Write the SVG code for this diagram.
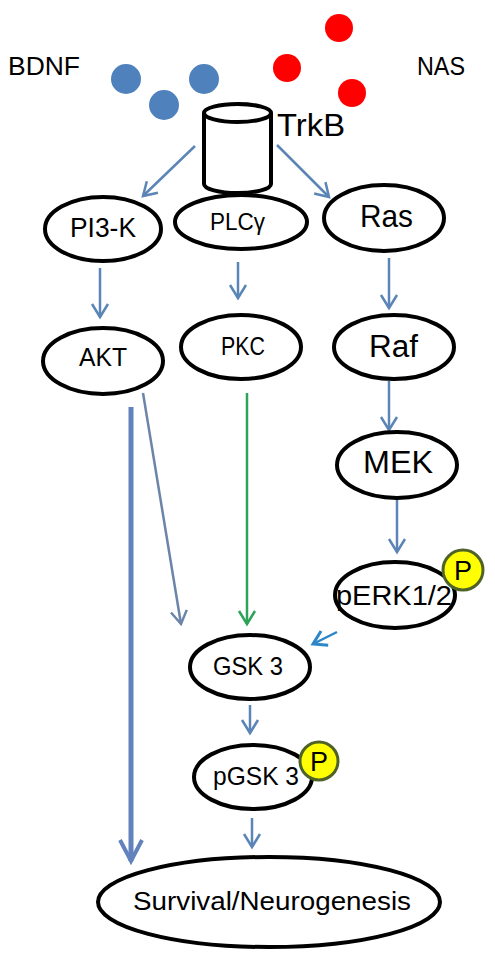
<svg xmlns="http://www.w3.org/2000/svg" width="495" height="963" viewBox="0 0 495 963">
<style>
  text { font-family: "Liberation Sans", Arial, sans-serif; fill: #000; }
  .node { fill: #fff; stroke: #000; stroke-width: 4; }
  .blue { fill: #4f81bd; }
  .red { fill: #ff0000; }
  .phos { fill: #ffff00; stroke: #4f6228; stroke-width: 3; }
  .edge { fill: none; stroke: #5a85b6; stroke-width: 2.5; }
  .thin { fill: none; stroke: #6a85a8; stroke-width: 2.5; }
  .green { fill: none; stroke: #2da35a; stroke-width: 2.5; }
  .bright { fill: none; stroke: #2b87c9; stroke-width: 2.5; }
  .thick { fill: none; stroke: #6282bd; stroke-width: 5; }
</style>
<defs>
  <marker id="ah" viewBox="-16 -10 20 20" refX="0" refY="0" markerWidth="20" markerHeight="20" markerUnits="userSpaceOnUse" orient="auto">
    <path d="M-13,-8 L0,0 L-13,8" fill="none" stroke="#5a85b6" stroke-width="2.5"/>
  </marker>
  <marker id="ahThin" viewBox="-16 -10 20 20" refX="0" refY="0" markerWidth="20" markerHeight="20" markerUnits="userSpaceOnUse" orient="auto">
    <path d="M-13,-8 L0,0 L-13,8" fill="none" stroke="#6a85a8" stroke-width="2.5"/>
  </marker>
  <marker id="ahGreen" viewBox="-16 -10 20 20" refX="0" refY="0" markerWidth="20" markerHeight="20" markerUnits="userSpaceOnUse" orient="auto">
    <path d="M-13,-8 L0,0 L-13,8" fill="none" stroke="#2da35a" stroke-width="2.5"/>
  </marker>
  <marker id="ahBright" viewBox="-16 -10 20 20" refX="0" refY="0" markerWidth="20" markerHeight="20" markerUnits="userSpaceOnUse" orient="auto">
    <path d="M-13,-8 L0,0 L-13,8" fill="none" stroke="#2b87c9" stroke-width="3"/>
  </marker>
  <marker id="ahThick" viewBox="-26 -14 30 28" refX="0" refY="0" markerWidth="30" markerHeight="28" markerUnits="userSpaceOnUse" orient="auto">
    <path d="M-21,-11 L0,0 L-21,11" fill="none" stroke="#6282bd" stroke-width="4"/>
  </marker>
</defs>

<g id="bdnf">
  <text x="8" y="75" font-size="25" textLength="72" lengthAdjust="spacingAndGlyphs">BDNF</text>
  <circle class="blue" cx="126" cy="79" r="15"/>
  <circle class="blue" cx="204" cy="79" r="15"/>
  <circle class="blue" cx="164" cy="105" r="15"/>
</g>

<g id="nas">
  <text x="417" y="75" font-size="25" textLength="48" lengthAdjust="spacingAndGlyphs">NAS</text>
  <circle class="red" cx="339" cy="28" r="14"/>
  <circle class="red" cx="287" cy="68" r="14"/>
  <circle class="red" cx="352" cy="93" r="14"/>
</g>

<g id="connectors">
  <line class="edge" x1="195" y1="146" x2="143" y2="196" marker-end="url(#ah)"/>
  <line class="edge" x1="277" y1="145" x2="329" y2="197" marker-end="url(#ah)"/>
  <line class="edge" x1="100" y1="268" x2="100" y2="317" marker-end="url(#ah)"/>
  <line class="edge" x1="238" y1="262" x2="238" y2="298" marker-end="url(#ah)"/>
  <line class="edge" x1="389" y1="258" x2="389" y2="308" marker-end="url(#ah)"/>
  <line class="edge" x1="389" y1="381" x2="389" y2="430" marker-end="url(#ah)"/>
  <line class="edge" x1="397" y1="500" x2="397" y2="552" marker-end="url(#ah)"/>
  <line class="thin" x1="143" y1="393" x2="181" y2="624" marker-end="url(#ahThin)"/>
  <line class="green" x1="247" y1="393" x2="247" y2="624" marker-end="url(#ahGreen)"/>
  <line class="bright" x1="337" y1="632" x2="313" y2="644" marker-end="url(#ahBright)"/>
  <line class="edge" x1="250" y1="705" x2="250" y2="733" marker-end="url(#ah)"/>
  <line class="edge" x1="252" y1="818" x2="252" y2="847" marker-end="url(#ah)"/>
  <line class="thick" x1="131" y1="407" x2="131" y2="861" marker-end="url(#ahThick)"/>
</g>

<g id="trkb">
  <path class="node" d="M204,113 L204,184 A33.5,9 0 0 0 271,184 L271,113"/>
  <ellipse class="node" cx="237.5" cy="113" rx="33.5" ry="9"/>
  <text x="277" y="136" font-size="32" textLength="68" lengthAdjust="spacingAndGlyphs">TrkB</text>
</g>

<g id="pi3k">
  <ellipse class="node" cx="103" cy="229" rx="58" ry="32"/>
  <text x="70" y="237" font-size="27" textLength="66" lengthAdjust="spacingAndGlyphs">PI3-K</text>
</g>

<g id="plcg">
  <ellipse class="node" cx="241" cy="222" rx="66" ry="27"/>
  <text x="210" y="230" font-size="24" textLength="55" lengthAdjust="spacingAndGlyphs">PLCγ</text>
</g>

<g id="ras">
  <ellipse class="node" cx="384" cy="218" rx="60" ry="33"/>
  <text x="360" y="227" font-size="32" textLength="53" lengthAdjust="spacingAndGlyphs">Ras</text>
</g>

<g id="akt">
  <ellipse class="node" cx="103" cy="361" rx="60" ry="33"/>
  <text x="79" y="366" font-size="25" textLength="48" lengthAdjust="spacingAndGlyphs">AKT</text>
</g>

<g id="pkc">
  <ellipse class="node" cx="241" cy="347" rx="60" ry="32"/>
  <text x="221" y="355" font-size="25" textLength="44" lengthAdjust="spacingAndGlyphs">PKC</text>
</g>

<g id="raf">
  <ellipse class="node" cx="394" cy="347" rx="60" ry="32"/>
  <text x="369" y="357" font-size="31" textLength="49" lengthAdjust="spacingAndGlyphs">Raf</text>
</g>

<g id="mek">
  <ellipse class="node" cx="397" cy="465" rx="60" ry="33"/>
  <text x="363" y="473" font-size="32" textLength="70" lengthAdjust="spacingAndGlyphs">MEK</text>
</g>

<g id="perk">
  <ellipse class="node" cx="395" cy="595" rx="60" ry="33"/>
  <text x="336" y="605" font-size="28" textLength="116" lengthAdjust="spacingAndGlyphs">pERK1/2</text>
  <circle class="phos" cx="463" cy="570" r="20"/>
  <text x="454" y="580" font-size="27">P</text>
</g>

<g id="gsk3">
  <ellipse class="node" cx="250" cy="667" rx="60" ry="32"/>
  <text x="213" y="675" font-size="25" textLength="70" lengthAdjust="spacingAndGlyphs">GSK 3</text>
</g>

<g id="pgsk3">
  <ellipse class="node" cx="253" cy="777" rx="59" ry="32"/>
  <text x="213" y="785" font-size="26" textLength="86" lengthAdjust="spacingAndGlyphs">pGSK 3</text>
  <circle class="phos" cx="319" cy="761" r="19"/>
  <text x="310" y="771" font-size="27">P</text>
</g>

<g id="survival">
  <ellipse class="node" cx="269" cy="902" rx="171" ry="45"/>
  <text x="133" y="910" font-size="26" textLength="278" lengthAdjust="spacingAndGlyphs">Survival/Neurogenesis</text>
</g>
</svg>
